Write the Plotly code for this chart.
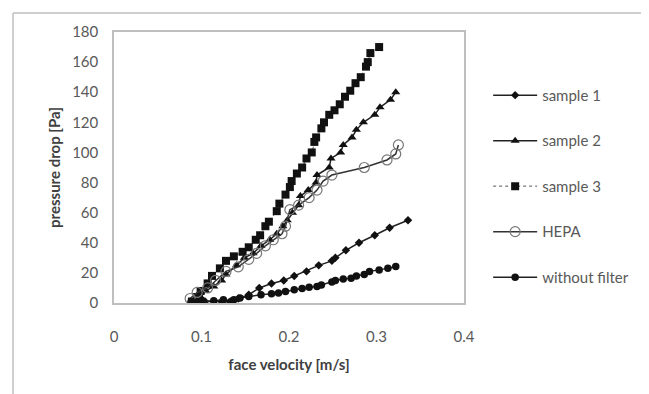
import plotly.graph_objects as go

# sample 1 (small diamonds)
s1_x = [0.097, 0.104, 0.123, 0.133, 0.142, 0.154, 0.166, 0.180, 0.194, 0.206, 0.220, 0.234, 0.249, 0.253, 0.265, 0.280, 0.298, 0.315, 0.336]
s1_y = [1, 1, 1, 1, 3, 5.5, 10, 13, 15, 18, 21, 25, 28, 30, 35, 40, 45, 50, 55]

# sample 2 (triangles)
s2_x = [0.091, 0.099, 0.105, 0.114, 0.123, 0.128, 0.140, 0.149, 0.159, 0.168, 0.178, 0.186, 0.193, 0.198, 0.204, 0.211, 0.213, 0.222, 0.231, 0.232, 0.246, 0.248, 0.259, 0.262, 0.272, 0.277, 0.285, 0.298, 0.304, 0.316, 0.322]
s2_y = [1, 4, 8, 11, 15, 19, 25, 30, 33, 38, 42, 46, 51, 55, 60, 65, 71, 75, 80, 85, 90, 96, 100, 105, 110, 115, 120, 125, 130, 135, 140]

# sample 3 (squares)
s3_x = [0.089, 0.095, 0.099, 0.107, 0.112, 0.121, 0.128, 0.137, 0.147, 0.154, 0.162, 0.167, 0.173, 0.177, 0.186, 0.189, 0.196, 0.201, 0.203, 0.209, 0.215, 0.220, 0.226, 0.229, 0.231, 0.237, 0.240, 0.246, 0.252, 0.258, 0.264, 0.270, 0.276, 0.282, 0.288, 0.290, 0.293, 0.303]
s3_y = [1, 4, 8, 13, 18, 23, 28, 31, 34, 37, 42, 45, 51, 54, 61, 66, 72, 77, 81, 86, 90, 96, 100, 107, 110, 116, 120, 125, 128, 132, 137, 141, 146, 150, 157, 160, 166, 170]

# HEPA (open circles)
hepa_x = [0.087, 0.095, 0.107, 0.116, 0.128, 0.142, 0.154, 0.163, 0.173, 0.182, 0.192, 0.196, 0.201, 0.211, 0.223, 0.232, 0.239, 0.249, 0.286, 0.312, 0.322, 0.325]
hepa_y = [3, 7, 10, 15, 21, 24, 29, 33, 38, 42, 46, 51, 62, 65, 70, 75, 81, 85, 90, 95, 99, 105]

# without filter (filled circles)
wf_x = [0.088, 0.095, 0.102, 0.114, 0.125, 0.133, 0.137, 0.144, 0.154, 0.168, 0.180, 0.188, 0.196, 0.206, 0.215, 0.223, 0.232, 0.237, 0.249, 0.253, 0.262, 0.271, 0.277, 0.286, 0.292, 0.303, 0.313, 0.322]
wf_y = [0.7, 0.7, 1.1, 1.5, 2.2, 0.7, 2.2, 3.3, 4.4, 5.5, 6.2, 6.6, 7.7, 8.8, 9.7, 10.4, 11, 12, 14, 15, 16, 16.5, 18, 19, 21, 22, 23, 24.3]

x_ticks = [0, 0.1, 0.2, 0.3, 0.4]
x_tick_labels = ["0", "0.1", "0.2", "0.3", "0.4"]
y_ticks = [0, 20, 40, 60, 80, 100, 120, 140, 160, 180]

FONT = "Lato, Open Sans, sans-serif"
TXT = "#595959"
TITLE = "#404040"

W, H = 649, 394
OFF = 8  # page body margin
L, T = 114 - OFF, 32 - OFF
PW, PH = 350, 271
R, B = W - L - PW, H - T - PH

fig = go.Figure()
fig.add_trace(go.Scatter(x=s1_x, y=s1_y, name="sample 1", mode="lines+markers",
                         line=dict(color="#222", width=1.5),
                         marker=dict(symbol="diamond", size=6.5, color="#111"),
                         legendgroup="a"))
fig.add_trace(go.Scatter(x=s2_x, y=s2_y, name="sample 2", mode="lines+markers",
                         line=dict(color="#222", width=1.5),
                         marker=dict(symbol="triangle-up", size=8, color="#111"),
                         legendgroup="b"))
fig.add_trace(go.Scatter(x=s3_x, y=s3_y, name="sample 3", mode="lines+markers",
                         line=dict(color="#555", width=1, dash="dot"),
                         marker=dict(symbol="square", size=8, color="#111"),
                         legendgroup="c"))
fig.add_trace(go.Scatter(x=hepa_x, y=hepa_y, name="HEPA", mode="lines+markers",
                         line=dict(color="#333", width=1.5),
                         marker=dict(symbol="circle-open", size=10, color="#777", line=dict(width=1.2)),
                         legendgroup="d"))
fig.add_trace(go.Scatter(x=wf_x, y=wf_y, name="without filter", mode="lines+markers",
                         line=dict(color="#222", width=1.5),
                         marker=dict(symbol="circle", size=7.5, color="#111"),
                         legendgroup="e"))

fig.update_layout(
    width=W, height=H,
    margin=dict(l=L, r=R, t=T, b=B),
    paper_bgcolor="white", plot_bgcolor="white",
    font=dict(family=FONT, size=15, color=TXT),
    legend=dict(x=1.069, y=0.827, xanchor="left", yanchor="top",
                tracegroupgap=23, font=dict(size=15, color=TXT),
                traceorder="grouped", itemwidth=44, bgcolor="rgba(0,0,0,0)"),
    xaxis=dict(range=[0, 0.4], tickvals=x_ticks, ticktext=x_tick_labels,
               showgrid=False, zeroline=False, showline=True, mirror=True,
               linecolor="#bfbfbf", linewidth=1.5, ticks="", ticklabelstandoff=19,
               tickfont=dict(size=15, color=TXT),
               title=dict(text="<b>face velocity [m/s]</b>", font=dict(size=15, color=TITLE), standoff=16)),
    yaxis=dict(range=[0, 180], tickvals=y_ticks,
               showgrid=False, zeroline=False, showline=True, mirror=True,
               linecolor="#bfbfbf", linewidth=1.5, ticks="", ticklabelstandoff=11,
               tickfont=dict(size=15, color=TXT),
               title=dict(text="<b>pressure drop [Pa]</b>", font=dict(size=15, color=TITLE), standoff=8)),
)

# outer chart-area border (top and left edges visible)
fig.add_shape(type="line", xref="paper", yref="paper",
              x0=(13 - 114) / PW, x1=(680 - 114) / PW,
              y0=(303 - 13) / PH, y1=(303 - 13) / PH,
              line=dict(color="#bfbfbf", width=1.5))
fig.add_shape(type="line", xref="paper", yref="paper",
              x0=(13 - 114) / PW, x1=(13 - 114) / PW,
              y0=(303 - 13) / PH, y1=(303 - 420) / PH,
              line=dict(color="#bfbfbf", width=1.5))

fig.write_html("out.html")
